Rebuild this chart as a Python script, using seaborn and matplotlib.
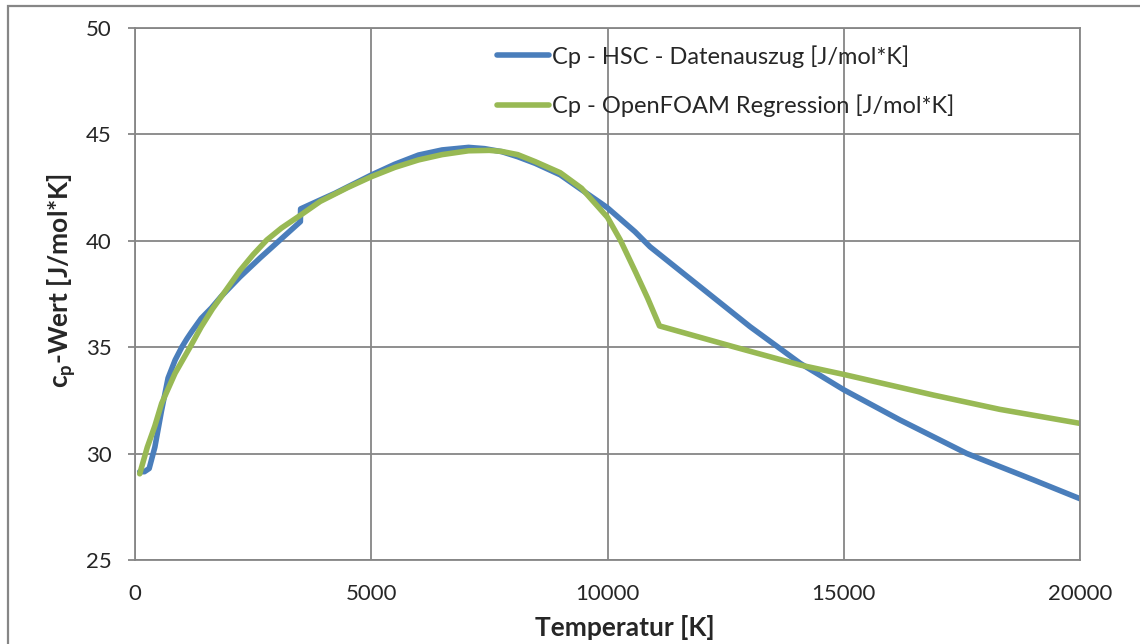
import matplotlib
matplotlib.use("Agg")
import matplotlib.pyplot as plt
import seaborn as sns
import pandas as pd
from matplotlib.patches import Rectangle

# ---- data ----
hsc_T = [100, 200, 300, 420, 560, 700, 850, 990, 1100, 1200, 1400, 1620, 1830, 2220, 2650,
         3070, 3460, 3500, 3505, 3920, 4230, 5000, 5500, 6000, 6500, 7060, 7400, 7760, 8100,
         8470, 9000, 9450, 9840, 10000, 10580, 10900, 11960, 13020, 14080, 15000, 16190,
         17600, 19020, 20000]
hsc_cp = [29.15, 29.15, 29.3, 30.3, 32.0, 33.55, 34.4, 35.0, 35.4, 35.73, 36.35, 36.85, 37.4, 38.3, 39.2,
          40.04, 40.82, 40.9, 41.5, 41.92, 42.23, 43.09, 43.6, 44.03, 44.27, 44.39, 44.33, 44.19, 43.95,
          43.64, 43.1, 42.4, 41.8, 41.55, 40.43, 39.72, 37.84, 35.96, 34.24, 33.0, 31.58,
          30.01, 28.76, 27.88]

of_T = [100, 260, 420, 564, 847, 1164, 1400, 1640, 1900, 2220, 2500, 2790, 3100, 3500, 3920,
        4500, 5000, 5500, 6000, 6500, 7060, 7500, 7760, 8100, 8470, 9000, 9450, 9840, 10000,
        10270, 10600, 10850, 11100, 12670, 14080, 15000, 16900, 18300, 20000]
of_cp = [29.05, 30.3, 31.3, 32.36, 33.77, 35.0, 35.95, 36.8, 37.6, 38.6, 39.35, 40.04, 40.6, 41.2, 41.85,
         42.5, 43.01, 43.45, 43.8, 44.05, 44.23, 44.25, 44.2, 44.05, 43.72, 43.2, 42.47, 41.5, 41.1,
         40.04, 38.5, 37.3, 36.0, 35.02, 34.16, 33.72, 32.75, 32.08, 31.42]

labels = ["Cp - HSC - Datenauszug [J/mol*K]", "Cp - OpenFOAM Regression [J/mol*K]"]
x_ticks = [0, 5000, 10000, 15000, 20000]
y_ticks = [25, 30, 35, 40, 45, 50]

df = pd.concat([
    pd.DataFrame({"T": hsc_T, "cp": hsc_cp, "series": labels[0]}),
    pd.DataFrame({"T": of_T, "cp": of_cp, "series": labels[1]}),
], ignore_index=True)

sns.set_theme(style="white")
plt.rcParams["font.family"] = ["Lato", "DejaVu Sans"]
plt.rcParams["mathtext.fontset"] = "custom"
plt.rcParams["mathtext.rm"] = "Lato"
plt.rcParams["mathtext.bf"] = "Lato:bold"

grid_c = "#868686"
fig = plt.figure(figsize=(11.4, 6.44), dpi=100)
ax = fig.add_axes([135 / 1140, 1 - 560 / 644, (1080 - 135) / 1140, (560 - 28) / 644])

sns.lineplot(data=df, x="T", y="cp", hue="series", palette=["#4A7EBB", "#98B954"],
             estimator=None, sort=False, linewidth=4.0, ax=ax, legend=True,
             solid_capstyle="round", solid_joinstyle="round")

ax.set_xlim(0, 20000)
ax.set_ylim(25, 50)
ax.set_xticks(x_ticks)
ax.set_yticks(y_ticks)
ax.grid(True, color=grid_c, linewidth=1.3)
ax.set_axisbelow(True)
for s in ax.spines.values():
    s.set_color(grid_c)
    s.set_linewidth(1.3)
ax.tick_params(axis="y", length=5, color=grid_c, width=1.3, pad=12, labelsize=16, left=True)
ax.tick_params(axis="x", length=0, pad=17, labelsize=16)
ax.set_xlabel("Temperatur [K]", fontsize=19, fontweight="bold")
ax.set_ylabel(r"c$_\mathbf{p}$-Wert [J/mol*K]", fontsize=19, fontweight="bold")
ax.xaxis.set_label_coords((625 - 135) / 945, -(628 - 560) / 532, transform=ax.transAxes)
ax.xaxis.label.set_va("center")
ax.yaxis.set_label_coords(-(135 - 62) / 945, 1 - (280 - 28) / 532, transform=ax.transAxes)
ax.yaxis.label.set_va("center")

h, l = ax.get_legend_handles_labels()
for hh in h:
    hh.set_linewidth(4.0)
ax.legend(h, l, frameon=False, fontsize=17, loc="upper left",
          bbox_to_anchor=(497 / 1140, 1 - 45 / 644), bbox_transform=fig.transFigure,
          borderpad=0, borderaxespad=0, handlelength=2.2, handletextpad=0.15,
          labelspacing=1.15)

fig.patches.append(Rectangle((8 / 1140, -0.05), 1.1, 1 - 6 / 644 + 0.05,
                             transform=fig.transFigure, fill=False,
                             edgecolor=grid_c, linewidth=1.6))

fig.savefig("out.png", dpi=100)
